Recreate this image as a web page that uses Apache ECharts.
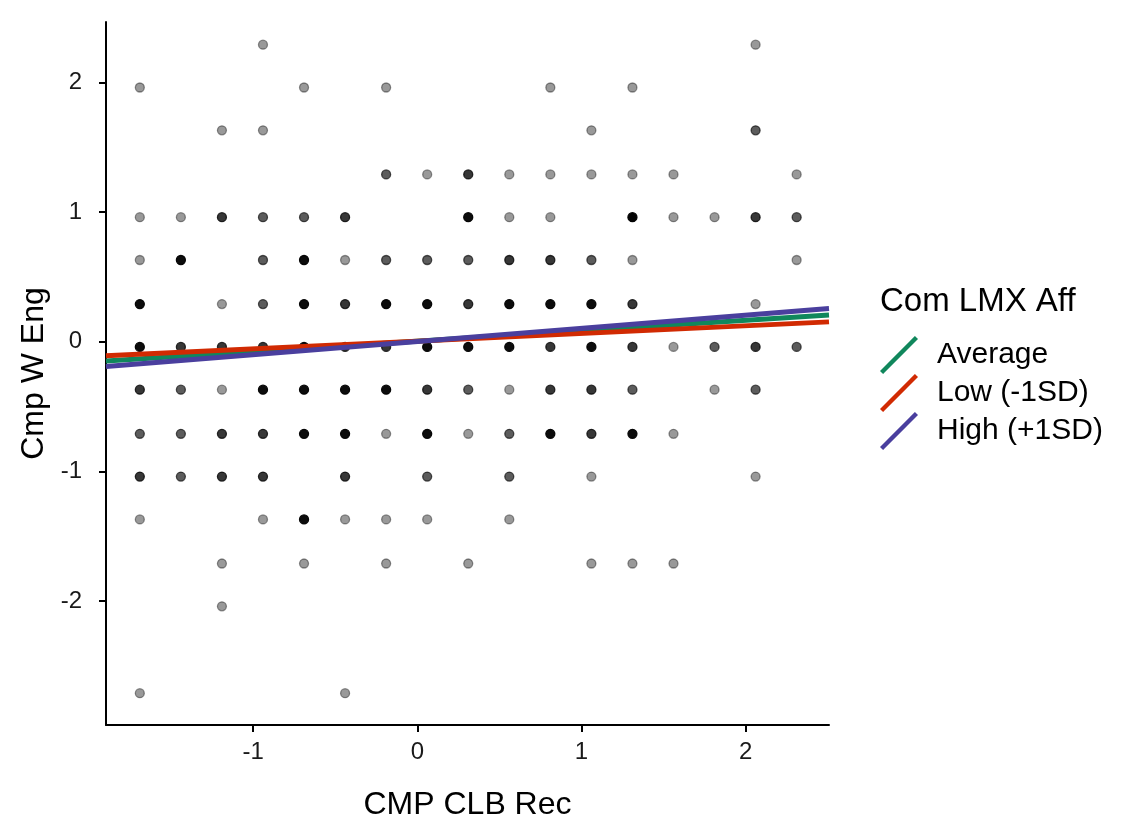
<!DOCTYPE html>
<html>
<head>
<meta charset="utf-8">
<script src="https://cdn.jsdelivr.net/npm/echarts@6/dist/echarts.min.js"></script>
<style>
  html, body { margin: 0; padding: 0; background: #fff; }
  #chart { width: 1147px; height: 825px; }
</style>
</head>
<body>
<div id="chart"></div>
<script>
// grid columns (CMP CLB Rec) and rows (Cmp W Eng) where the observations sit
var colX = [-1.69, -1.44, -1.19, -0.94, -0.69, -0.44, -0.19, 0.06, 0.31, 0.56, 0.81, 1.06, 1.31, 1.56, 1.81, 2.06, 2.31];
var rowY = [2.29, 1.96, 1.63, 1.29, 0.96, 0.63, 0.29, -0.04, -0.37, -0.71, -1.04, -1.37, -1.71, -2.04, -2.71];

// how many observations overlap at each grid spot (0 = none), one line per row
var counts = [
  [0,0,0,1,0,0,0,0,0,0,0,0,0,0,0,1,0],
  [1,0,0,0,1,0,1,0,0,0,1,0,1,0,0,0,0],
  [0,0,1,1,0,0,0,0,0,0,0,1,0,0,0,2,0],
  [0,0,0,0,0,0,2,1,3,1,1,1,1,1,0,0,1],
  [1,1,3,2,2,3,0,0,6,1,1,0,8,1,1,3,2],
  [1,6,0,2,6,1,2,2,2,3,3,2,1,0,0,0,1],
  [6,0,1,2,6,3,6,6,3,6,6,6,3,0,0,1,0],
  [6,3,3,3,6,3,3,6,6,6,3,6,3,1,2,3,2],
  [3,2,1,6,6,6,6,3,2,1,3,3,2,0,1,2,0],
  [2,2,3,3,6,6,1,6,1,2,6,3,6,1,0,0,0],
  [3,2,3,3,0,3,0,2,0,2,0,1,0,0,0,1,0],
  [1,0,0,1,6,1,1,1,0,1,0,0,0,0,0,0,0],
  [0,0,1,0,1,0,1,0,1,0,0,1,1,1,0,0,0],
  [0,0,1,0,0,0,0,0,0,0,0,0,0,0,0,0,0],
  [1,0,0,0,0,1,0,0,0,0,0,0,0,0,0,0,0]
];

// simple slopes, end points at the plot edges
var lineX = [-1.896, 2.507];
var avgY = [-0.149, 0.206];
var lowY = [-0.109, 0.153];
var highY = [-0.191, 0.256];

var xTicks = [-1, 0, 1, 2];
var yTicks = [-2, -1, 0, 1, 2];

var seriesNames = ['Average', 'Low (-1SD)', 'High (+1SD)'];
var seriesColors = ['#10875c', '#d12a02', '#4a3f9e'];

function pointColor(n) {
  var a = 1 - Math.pow(0.6, n); // alpha 0.4 stacked n times
  return 'rgba(0,0,0,' + a.toFixed(3) + ')';
}

var points = [];
rowY.forEach(function (y, r) {
  colX.forEach(function (x, c) {
    var n = counts[r][c];
    if (n > 0) {
      points.push({
        value: [x, y, n],
        itemStyle: { color: pointColor(n), borderColor: pointColor(n) }
      });
    }
  });
});

var font = '"Liberation Sans", Arial, sans-serif';
var diag = 'path://M0.4,36.4L36.4,0.4L39.6,3.6L3.6,39.6Z';

var chart = echarts.init(document.getElementById('chart'));

chart.setOption({
  animation: false,
  backgroundColor: '#fff',
  title: {
    text: 'Com LMX Aff',
    left: 880,
    top: 285,
    padding: 0,
    textStyle: { fontFamily: font, fontSize: 33, fontWeight: 'normal', color: '#000' }
  },
  legend: {
    orient: 'vertical',
    left: 880,
    top: 336,
    padding: 0,
    itemWidth: 38,
    itemHeight: 38,
    itemGap: 0,
    data: seriesNames.map(function (n) { return { name: n, icon: diag }; }),
    textStyle: { fontFamily: font, fontSize: 30, color: '#000', padding: [0, 0, 0, 14] }
  },
  grid: { left: 106, right: 318, top: 22, bottom: 100, outerBoundsMode: 'none', containLabel: false },
  xAxis: {
    type: 'value',
    min: lineX[0],
    max: lineX[1],
    name: 'CMP CLB Rec',
    nameLocation: 'middle',
    nameGap: 64,
    nameTextStyle: { fontFamily: font, fontSize: 32, color: '#000' },
    splitLine: { show: false },
    axisLine: { onZero: false, lineStyle: { color: '#000', width: 2 } },
    axisTick: { customValues: xTicks, length: 7, lineStyle: { color: '#000', width: 2 } },
    axisLabel: { customValues: xTicks, margin: 15, fontFamily: font, fontSize: 24, color: '#1a1a1a' }
  },
  yAxis: {
    type: 'value',
    min: -2.955,
    max: 2.465,
    name: 'Cmp W Eng',
    nameLocation: 'middle',
    nameGap: 56,
    nameTextStyle: { fontFamily: font, fontSize: 32, color: '#000' },
    splitLine: { show: false },
    axisLine: { show: true, onZero: false, lineStyle: { color: '#000', width: 2 } },
    axisTick: { show: true, customValues: yTicks, length: 7, lineStyle: { color: '#000', width: 2 } },
    axisLabel: { customValues: yTicks, margin: 24, fontFamily: font, fontSize: 24, color: '#1a1a1a' }
  },
  series: [
    {
      type: 'scatter',
      name: 'obs',
      data: points,
      symbolSize: 9,
      itemStyle: { borderWidth: 1.3, opacity: 1 },
      emphasis: { disabled: true },
      z: 1
    },
    {
      type: 'line', name: seriesNames[0], data: [[lineX[0], avgY[0]], [lineX[1], avgY[1]]],
      symbol: 'none', color: seriesColors[0], lineStyle: { width: 5, color: seriesColors[0] }, z: 2
    },
    {
      type: 'line', name: seriesNames[1], data: [[lineX[0], lowY[0]], [lineX[1], lowY[1]]],
      symbol: 'none', color: seriesColors[1], lineStyle: { width: 5, color: seriesColors[1] }, z: 3
    },
    {
      type: 'line', name: seriesNames[2], data: [[lineX[0], highY[0]], [lineX[1], highY[1]]],
      symbol: 'none', color: seriesColors[2], lineStyle: { width: 5, color: seriesColors[2] }, z: 4
    }
  ]
});
</script>
</body>
</html>
